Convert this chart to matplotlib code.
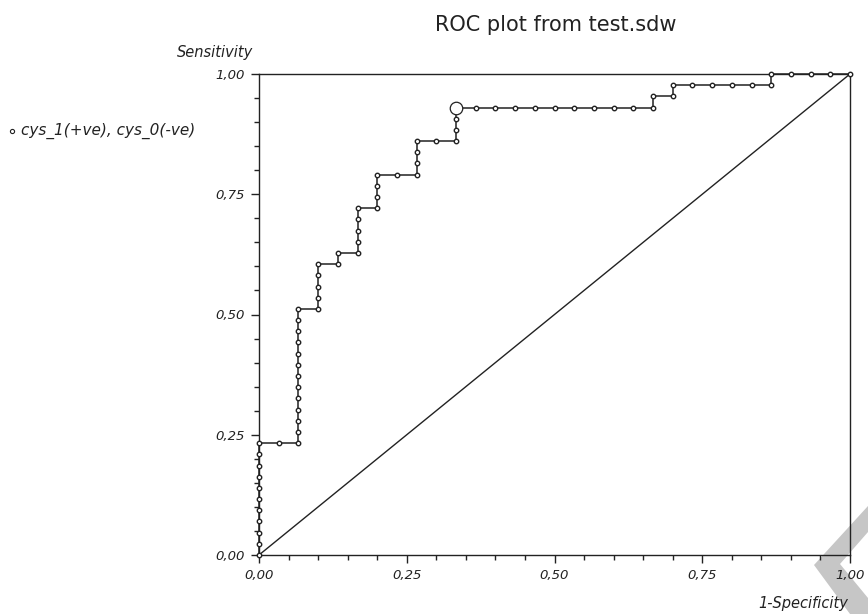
import matplotlib
matplotlib.use("Agg")
import matplotlib.pyplot as plt
from matplotlib.ticker import MultipleLocator, FuncFormatter
from matplotlib.lines import Line2D
from matplotlib.patches import Polygon

# ROC points from test.sdw: false positives / true positives (counts)
n_neg = 30
n_pos = 43
fp = [0, 0, 0, 0, 0, 0, 0, 0, 0, 0, 0,
      1, 2, 2, 2, 2, 2, 2, 2, 2, 2, 2, 2, 2, 2,
      3, 3, 3, 3, 3, 4, 4, 5, 5, 5, 5, 5,
      6, 6, 6, 6, 7, 8, 8, 8, 8, 9, 10, 10, 10, 10,
      11, 12, 13, 14, 15, 16, 17, 18, 19, 20, 20,
      21, 21, 22, 23, 24, 25, 26, 26, 27, 28, 29, 30]
tp = [0, 1, 2, 3, 4, 5, 6, 7, 8, 9, 10,
      10, 10, 11, 12, 13, 14, 15, 16, 17, 18, 19, 20, 21, 22,
      22, 23, 24, 25, 26, 26, 27, 27, 28, 29, 30, 31,
      31, 32, 33, 34, 34, 34, 35, 36, 37, 37, 37, 38, 39, 40,
      40, 40, 40, 40, 40, 40, 40, 40, 40, 40, 41,
      41, 42, 42, 42, 42, 42, 42, 43, 43, 43, 43, 43]
# optimal cut-off point (big open circle)
best_fp, best_tp = 10, 40

fpr = [v / n_neg for v in fp]
tpr = [v / n_pos for v in tp]

W, H = 868, 614
fig = plt.figure(figsize=(W / 100, H / 100), dpi=100)
ax = fig.add_axes([259 / W, 1 - 555 / H, (850 - 259) / W, (555 - 74) / H])
ax.set_facecolor("none")

ink = "#222222"
ax.plot([0, 1], [0, 1], color=ink, lw=1.0, zorder=2)
ax.plot(fpr, tpr, color=ink, lw=1.1, marker="o", ms=3.2, mfc="white",
        mec=ink, mew=1.0, zorder=3, clip_on=False)
ax.plot([best_fp / n_neg], [best_tp / n_pos], marker="o", ms=9, mfc="white",
        mec=ink, mew=0.9, zorder=4, clip_on=False)

ax.set_xlim(0, 1)
ax.set_ylim(0, 1)
for s in ax.spines.values():
    s.set_color(ink)
    s.set_linewidth(1.0)

fmt = FuncFormatter(lambda v, p: f"{v:.2f}".replace(".", ","))
for axis in (ax.xaxis, ax.yaxis):
    axis.set_major_locator(MultipleLocator(0.25))
    axis.set_minor_locator(MultipleLocator(0.05))
    axis.set_major_formatter(fmt)
ax.tick_params(which="major", direction="out", length=6, width=1, color=ink,
               labelsize=9.5, pad=4)
ax.tick_params(which="minor", direction="out", length=3.6, width=1, color=ink)
for lab in ax.get_xticklabels() + ax.get_yticklabels():
    lab.set_fontstyle("italic")
    lab.set_color(ink)

fig.text(556 / W, 1 - 31 / H, "ROC plot from test.sdw", ha="center",
         va="baseline", fontsize=15, color=ink)
fig.text(253 / W, 1 - 57 / H, "Sensitivity", ha="right", va="baseline",
         fontsize=10.5, style="italic", color=ink)
fig.text(848 / W, 1 - 608 / H, "1-Specificity", ha="right", va="baseline",
         fontsize=10.5, style="italic", color=ink)

# legend entry at left
fig.add_artist(Line2D([12 / W], [1 - 131 / H], marker="o", ms=3, mfc="white",
                      mec=ink, mew=0.8, transform=fig.transFigure))
fig.text(21 / W, 1 - 131 / H, "cys_1(+ve), cys_0(-ve)", ha="left",
         va="center", fontsize=11, style="italic", color=ink)

# grey watermark chevron, bottom right
pts = [(868, 506), (814, 565), (850, 614), (868, 614), (868, 598),
       (840, 564), (868, 532)]
fig.add_artist(Polygon([(x / W, 1 - y / H) for x, y in pts], closed=True,
                       transform=fig.transFigure, facecolor="#c6c6c6",
                       edgecolor="none", zorder=-1))

fig.savefig("out.png", dpi=100, facecolor="white")
